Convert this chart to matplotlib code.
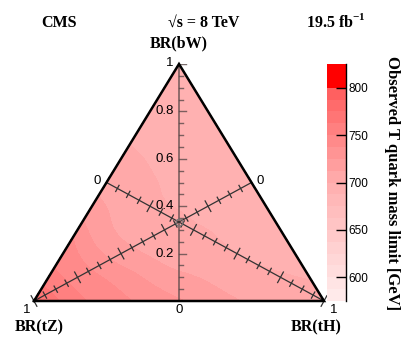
import numpy as np
import matplotlib
matplotlib.use('Agg')
import matplotlib.pyplot as plt
import matplotlib.tri as mtri
from matplotlib.colors import LinearSegmentedColormap, Normalize

# observed T quark mass limit [GeV], one list per BR(bW) row (0.0 ... 1.0),
# entries run over BR(tH) = 0, 0.1, 0.2, ... ; BR(tZ) = 1 - BR(bW) - BR(tH)
mass_bw00 = [782, 760, 748, 740, 733, 726, 719, 713, 709, 707, 706]
mass_bw01 = [755, 745, 736, 727, 718, 713, 708, 704, 701.5, 699]
mass_bw02 = [745, 730, 718, 711, 706, 703, 700, 696, 692]
mass_bw03 = [732, 715, 708, 703, 701, 698, 692, 689]
mass_bw04 = [716, 709, 702, 699.5, 695, 690, 688]
mass_bw05 = [709, 703.5, 699, 694, 690, 688]
mass_bw06 = [703, 699, 694, 691, 689]
mass_bw07 = [698.5, 695, 692, 690]
mass_bw08 = [697, 694, 692]
mass_bw09 = [696, 694]
mass_bw10 = [695]

levels = np.arange(575, 825.1, 12.5)
cbar_ticks = [600, 650, 700, 750, 800]
br_ticks = [0.2, 0.4, 0.6, 0.8]

rows = [mass_bw00, mass_bw01, mass_bw02, mass_bw03, mass_bw04, mass_bw05,
        mass_bw06, mass_bw07, mass_bw08, mass_bw09, mass_bw10]

W, H = 407, 360
fig = plt.figure(figsize=(W / 100, H / 100), dpi=100)
ax = fig.add_axes([34 / W, 59 / H, 290 / W, 237 / H])
ax.set_xlim(-1, 1)
ax.set_ylim(0, 1)
ax.axis('off')
sx, sy = 145.0, 237.0  # pixels per data unit


def to_xy(bw, th):
    return 2 * th + bw - 1, bw


# build the ternary grid
xs, ys, vals, idx = [], [], [], {}
for i, row in enumerate(rows):
    for j, m in enumerate(row):
        idx[(i, j)] = len(xs)
        x, y = to_xy(i / 10, j / 10)
        xs.append(x)
        ys.append(y)
        vals.append(m)
tris = []
for i in range(10):
    for j in range(10 - i):
        tris.append([idx[(i, j)], idx[(i, j + 1)], idx[(i + 1, j)]])
        if j <= 8 - i:
            tris.append([idx[(i, j + 1)], idx[(i + 1, j + 1)], idx[(i + 1, j)]])
tri = mtri.Triangulation(xs, ys, tris)
refiner = mtri.UniformTriRefiner(tri)
tri_f, vals_f = refiner.refine_field(np.array(vals, float), subdiv=3)

cmap = LinearSegmentedColormap.from_list('tq', [
    (0.0, '#ffeded'), (0.5, '#ffaeae'), ((799.9 - 575) / 250, '#ff5c5c'),
    ((800 - 575) / 250, '#ff0000'), (1.0, '#ff0000')])
norm = Normalize(vmin=575, vmax=825)
cf = ax.tricontourf(tri_f, vals_f, levels=levels, cmap=cmap, norm=norm)
cf.set_edgecolor('face')
cf.set_linewidth(0.4)

# BR(bW) axis (vertical)
ax.plot([0, 0], [0, 1], color='#5a4a4a', lw=1.2, alpha=0.8, zorder=3)
for k in range(21):
    v = k * 0.05
    L = 7 if k % 4 == 0 else 4
    ax.plot([0, L / sx], [v, v], color='#5a4a4a', lw=1, alpha=0.8, zorder=3)

sans = ['Liberation Sans', 'DejaVu Sans']
serif = ['Liberation Serif', 'DejaVu Serif']
for v in br_ticks:
    ax.text(-0.035, v, f'{v:.1f}', ha='right', va='center', fontsize=9.5, family=sans)
ax.text(-0.04, 1.004, '1', ha='right', va='center', fontsize=9.5, family=sans)
ax.text(0, -0.036, '0', ha='center', va='center', fontsize=9.5, family=sans)


def median_axis(p0, p1):
    p0, p1 = np.array(p0), np.array(p1)
    d = (p1 - p0) * [sx, sy]
    d = d / np.hypot(*d)
    n = np.array([-d[1], d[0]]) / [sx, sy]
    ax.plot([p0[0], p1[0]], [p0[1], p1[1]], color='#333333', lw=0.9, zorder=3,
            clip_on=False)
    for k in range(21):
        p = p0 + k * 0.05 * (p1 - p0)
        h = 6 if k % 4 == 0 else 3.5
        ax.plot([p[0] - h * n[0], p[0] + h * n[0]], [p[1] - h * n[1], p[1] + h * n[1]],
                color='#333333', lw=0.9, zorder=3, clip_on=False)


median_axis(to_xy(0.5, 0.0), to_xy(0.0, 1.0))   # BR(tH)
median_axis(to_xy(0.5, 0.5), to_xy(0.0, 0.0))   # BR(tZ)
ax.plot(0, 1 / 3, 'o', mfc='none', mec='#777777', ms=5, mew=0.8, zorder=4)

ax.text(-0.566, 0.505, '0', ha='center', va='center', fontsize=9.5, family=sans)
ax.text(0.559, 0.505, '0', ha='center', va='center', fontsize=9.5, family=sans)
ax.text(-1.05, -0.036, '1', ha='center', va='center', fontsize=9.5, family=sans)
ax.text(1.065, -0.036, '1', ha='center', va='center', fontsize=9.5, family=sans)

# triangle frame
ax.plot([-1, 0, 1, -1], [0, 1, 0, 0], color='black', lw=1.8, zorder=5,
        clip_on=False, solid_joinstyle='miter')

# colour scale
cax = fig.add_axes([327 / W, 59 / H, 19 / W, 237 / H])
cb = fig.colorbar(cf, cax=cax, ticks=cbar_ticks)
cb.outline.set_visible(False)
cax.tick_params(direction='in', length=7, width=1, labelsize=8.5, pad=2)
for t in cax.get_yticklabels():
    t.set_family(sans)
cax.plot([1, 1], [0, 1], transform=cax.transAxes, color='black', lw=1, clip_on=False)

plt.rcParams['mathtext.fontset'] = 'custom'
plt.rcParams['mathtext.rm'] = 'Liberation Serif:bold'
plt.rcParams['mathtext.bf'] = 'Liberation Serif:bold'

def ftext(px, py, s, **kw):
    fig.text(px / W, 1 - py / H, s, ha='center', va='center', family=serif,
             fontweight='bold', **kw)

ftext(59, 23, 'CMS', fontsize=11.5)
ftext(204, 23, '\u221as = 8 TeV', fontsize=11.5)
ftext(336, 22, r'19.5 fb$^{\mathbf{-1}}$', fontsize=11.5)
ftext(179, 43, 'BR(bW)', fontsize=11.5)
ftext(39, 327, 'BR(tZ)', fontsize=11.5)
ftext(316, 327, 'BR(tH)', fontsize=11.5)
ftext(392, 183, 'Observed T quark mass limit [GeV]', fontsize=12, rotation=270)

fig.savefig('out.png', dpi=100)
